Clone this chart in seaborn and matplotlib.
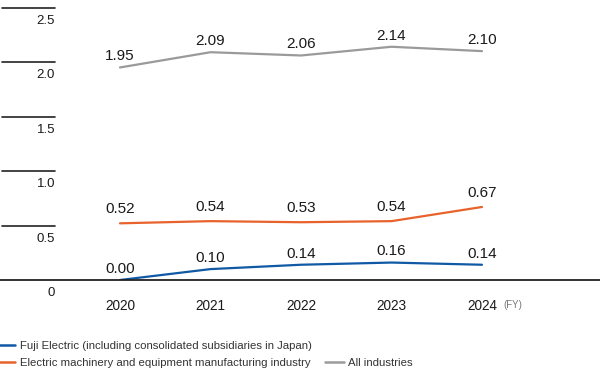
import matplotlib
matplotlib.use("Agg")
import matplotlib.pyplot as plt
from matplotlib.lines import Line2D
import seaborn as sns
import pandas as pd

years = [2020, 2021, 2022, 2023, 2024]
fuji = [0.00, 0.10, 0.14, 0.16, 0.14]
electric = [0.52, 0.54, 0.53, 0.54, 0.67]
all_industries = [1.95, 2.09, 2.06, 2.14, 2.10]
y_ticks = [0, 0.5, 1.0, 1.5, 2.0, 2.5]
y_tick_labels = ["0", "0.5", "1.0", "1.5", "2.0", "2.5"]

labels = [
    "Fuji Electric (including consolidated subsidiaries in Japan)",
    "Electric machinery and equipment manufacturing industry",
    "All industries",
]
colors = ["#1059a5", "#e8632c", "#9a9a9a"]

sns.set_style("white")
plt.rcParams["font.family"] = ["Liberation Sans", "DejaVu Sans"]

df = pd.DataFrame({"year": years, labels[0]: fuji, labels[1]: electric, labels[2]: all_industries})

fig = plt.figure(figsize=(6, 3.68), dpi=100)
ax = fig.add_axes([0, 88 / 368, 1, 280 / 368])

label_offsets = [8, 10, 8]
for name, color, off in zip(labels, colors, label_offsets):
    sns.lineplot(data=df, x="year", y=name, ax=ax, color=color, linewidth=1.6)
    for x, y in zip(df["year"], df[name]):
        ax.annotate(f"{y:.2f}", (x, y), xytext=(0, off), textcoords="offset points",
                    ha="center", va="center", fontsize=11, color="#1a1a1a")

ax.set_xlim(2020 - 1.326, 2020 + 5.304)
ax.set_ylim(0, 2.569)

# short gridlines with labels under them
for t, lab in zip(y_ticks, y_tick_labels):
    if t > 0:
        ax.axhline(t, xmin=2 / 600, xmax=55 / 600, color="#222222", linewidth=1.2)
    ax.annotate(lab, (55 / 600, t), xycoords=("axes fraction", "data"),
                xytext=(0, -9.5), textcoords="offset points",
                ha="right", va="center", fontsize=9.5, color="#1a1a1a")

ax.set_yticks([])
ax.set_ylabel("")
ax.set_xlabel("")
ax.set_xticks(years)
ax.set_xticklabels([str(y) for y in years], fontsize=9.8, color="#1a1a1a")
ax.tick_params(axis="x", length=0, pad=13.5)
for side in ["top", "left", "right"]:
    ax.spines[side].set_visible(False)
ax.spines["bottom"].set_color("#222222")
ax.spines["bottom"].set_linewidth(1.3)

ax.annotate("(FY)", (years[-1], 0), xytext=(15.5, -18), textcoords="offset points",
            ha="left", va="center", fontsize=7, color="#777777")

handles = [
    Line2D([], [], color=colors[0], linewidth=1.8),
    Line2D([], [], color=colors[1], linewidth=1.8),
    Line2D([], [], alpha=0),
    Line2D([], [], color=colors[2], linewidth=1.8),
]
fig.legend(handles, [labels[0], labels[1], " ", labels[2]], ncol=2,
           loc="upper left", bbox_to_anchor=(-0.005, 1 - 341 / 368),
           frameon=False, fontsize=8.2, handlelength=1.6, handletextpad=0.4,
           columnspacing=1.2, labelspacing=0.6, borderpad=0, borderaxespad=0,
           labelcolor="#333333")

fig.savefig("out.png", dpi=100)
